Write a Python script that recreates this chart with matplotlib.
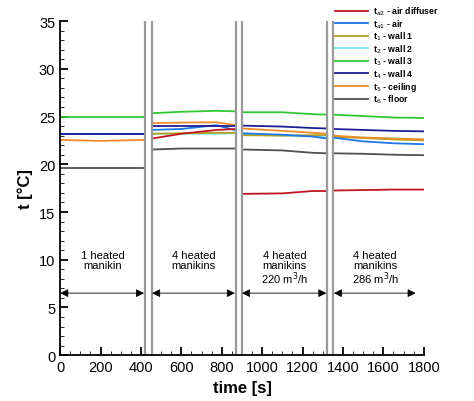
import numpy as np
import matplotlib
matplotlib.use('Agg')
import matplotlib.pyplot as plt
from matplotlib.ticker import MultipleLocator

plt.rcParams['font.family'] = ['Liberation Sans', 'DejaVu Sans']

# Segments (time breakpoints) and temperatures
seg1_t = [0, 200, 300, 420]
seg2_t = [455, 600, 775, 870]
seg3_t = [900, 1100, 1250, 1322]
seg4_t = [1350, 1500, 1650, 1800]

labels = ['t$_{a2}$ - air diffuser', 't$_{a1}$ - air', 't$_1$ - wall 1', 't$_2$ - wall 2',
          't$_3$ - wall 3', 't$_4$ - wall 4', 't$_5$ - ceiling', 't$_6$ - floor']
colors = ['#c0141e', '#1e78e6', '#b4a01e', '#78e6f0', '#32c832', '#1e1e96', '#f08c28', '#505050']

# values per series: [seg1, seg2, seg3, seg4]
diffuser = [None, [22.7, 23.2, 23.6, 23.7], [16.9, 16.95, 17.2, 17.2], [17.25, 17.3, 17.35, 17.35]]
air = [[23.15, 23.15, 23.15, 23.15], [23.6, 23.7, 24.1, 23.55], [23.25, 23.1, 22.9, 22.7], [22.8, 22.4, 22.2, 22.1]]
wall1 = [[23.15, 23.15, 23.15, 23.15], [23.2, 23.25, 23.3, 23.3], [23.05, 23.0, 23.05, 23.05], [22.9, 22.75, 22.6, 22.5]]
wall2 = [[23.15, 23.15, 23.15, 23.15], [23.2, 23.2, 23.2, 23.25], [23.15, 23.0, 23.0, 22.8], [22.9, 22.8, 22.7, 22.6]]
wall3 = [[24.93, 24.93, 24.93, 24.93], [25.35, 25.5, 25.6, 25.55], [25.45, 25.45, 25.25, 25.2], [25.2, 25.05, 24.9, 24.85]]
wall4 = [[23.16, 23.16, 23.16, 23.16], [24.05, 24.05, 24.05, 24.05], [24.05, 23.95, 23.8, 23.75], [23.7, 23.6, 23.5, 23.45]]
ceiling = [[22.55, 22.45, 22.5, 22.55], [24.3, 24.37, 24.4, 24.1], [23.75, 23.5, 23.3, 23.2], [23.0, 22.8, 22.7, 22.6]]
floor = [[19.65, 19.65, 19.65, 19.65], [21.55, 21.65, 21.65, 21.65], [21.55, 21.45, 21.2, 21.15], [21.15, 21.1, 21.0, 20.95]]
series = [diffuser, air, wall1, wall2, wall3, wall4, ceiling, floor]
seg_times = [seg1_t, seg2_t, seg3_t, seg4_t]

separators = [420, 453, 868, 900, 1323, 1352]
arrow_spans = [(0, 415), (455, 865), (900, 1318), (1355, 1760)]
seg_texts = ['1 heated\nmanikin', '4 heated\nmanikins', '4 heated\nmanikins\n220 m$^3$/h',
             '4 heated\nmanikins\n286 m$^3$/h']
text_x = [210, 660, 1110, 1560]

fig = plt.figure(figsize=(4.74, 4.02), dpi=100)
ax = fig.add_axes([0.127, 0.114, 0.767, 0.831])

order = [7, 3, 2, 1, 6, 5, 4, 0]
handles = {}
for i in order:
    for t, v in zip(seg_times, series[i]):
        if v is None:
            continue
        h, = ax.plot(t, v, color=colors[i], lw=1.3)
        handles[i] = h

for x in separators:
    ax.axvline(x, color='#999999', lw=1.6)

for (a, b), tx, s in zip(arrow_spans, text_x, seg_texts):
    ax.annotate('', xy=(a, 6.5), xytext=(b, 6.5),
                arrowprops=dict(arrowstyle='<|-|>', color='black', lw=0.6,
                                mutation_scale=12, shrinkA=0, shrinkB=0))
    ax.text(tx, 11.0, s, ha='center', va='top', fontsize=8, linespacing=0.95)

ax.set_xlim(0, 1800)
ax.set_ylim(0, 35)
ax.xaxis.set_major_locator(MultipleLocator(200))
ax.xaxis.set_minor_locator(MultipleLocator(50))
ax.yaxis.set_major_locator(MultipleLocator(5))
ax.yaxis.set_minor_locator(MultipleLocator(1))
ax.tick_params(direction='in', which='major', length=6, width=1.3, labelsize=10.5)
ax.tick_params(direction='in', which='minor', length=3)
ax.spines['top'].set_visible(False)
ax.spines['right'].set_visible(False)
ax.spines['left'].set_linewidth(1.3)
ax.spines['bottom'].set_linewidth(1.3)
ax.set_xlabel('time [s]', fontsize=12, fontweight='bold')
ax.set_ylabel('t [°C]', fontsize=12, fontweight='bold')

leg = fig.legend([handles[i] for i in range(8)], labels, loc='upper left',
                 bbox_to_anchor=(0.69, 1.005), frameon=False, fontsize=6.3,
                 handlelength=3.8, labelspacing=0.0, handletextpad=0.6)
for t in leg.get_texts():
    t.set_fontweight('bold')

fig.savefig('out.png', dpi=100)
